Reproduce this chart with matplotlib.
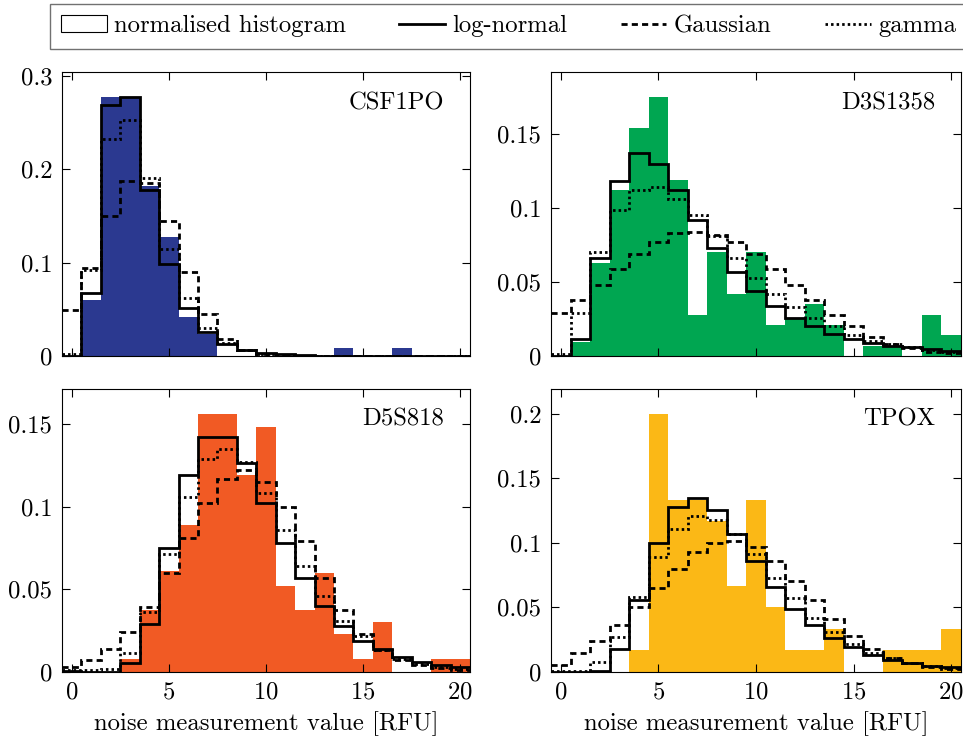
import matplotlib
matplotlib.use("Agg")
import matplotlib.pyplot as plt
import numpy as np
from matplotlib.patches import Patch
from matplotlib.lines import Line2D
from matplotlib.ticker import FuncFormatter

plt.rcParams['font.family'] = 'cmr10'
plt.rcParams['mathtext.fontset'] = 'cm'
plt.rcParams['axes.formatter.use_mathtext'] = True
FS = 17.8
plt.rcParams['font.size'] = FS

# noise values 0..20 RFU, one bin per integer
x = np.arange(0, 21)
edges = np.arange(-0.5, 21.0, 1.0)

# CSF1PO
csf_hist = [0, 0.060, 0.277, 0.277, 0.182, 0.127, 0.042, 0.024, 0, 0, 0,
            0, 0, 0, 0.0086, 0, 0, 0.0086, 0, 0, 0]
csf_logn = [0.0005, 0.067, 0.269, 0.277, 0.178, 0.099, 0.051, 0.026, 0.013, 0.0065, 0.0033,
            0.0017, 0.0009, 0.0005, 0.0003, 0.0002, 0.0001, 0.0001, 0, 0, 0]
csf_gauss = [0.049, 0.094, 0.150, 0.187, 0.185, 0.145, 0.090, 0.045, 0.018, 0.0065, 0.0018,
             0.0004, 0.0001, 0, 0, 0, 0, 0, 0, 0, 0]
csf_gamma = [0.002, 0.092, 0.232, 0.253, 0.190, 0.115, 0.062, 0.030, 0.014, 0.006, 0.0025,
             0.001, 0.0004, 0.0002, 0.0001, 0, 0, 0, 0, 0, 0]

# D3S1358
d3_hist = [0, 0.0093, 0.063, 0.112, 0.154, 0.175, 0.119, 0.028, 0.070, 0.042, 0.070,
           0.021, 0.026, 0.035, 0.021, 0, 0.007, 0.007, 0, 0.028, 0.014]
d3_logn = [0.0003, 0.0116, 0.066, 0.118, 0.137, 0.130, 0.112, 0.092, 0.073, 0.057, 0.044,
           0.034, 0.026, 0.020, 0.015, 0.0116, 0.0086, 0.007, 0.006, 0.0045, 0.0036]
d3_gauss = [0.029, 0.038, 0.048, 0.059, 0.069, 0.077, 0.083, 0.084, 0.082, 0.077, 0.069,
            0.059, 0.048, 0.038, 0.028, 0.020, 0.013, 0.008, 0.0055, 0.003, 0.002]
d3_gamma = [0.0014, 0.029, 0.070, 0.099, 0.112, 0.114, 0.106, 0.095, 0.081, 0.066, 0.053,
            0.042, 0.033, 0.026, 0.020, 0.014, 0.010, 0.008, 0.006, 0.004, 0.0025]

# D5S818
d5_hist = [0, 0, 0, 0.0077, 0.0375, 0.061, 0.089, 0.156, 0.156, 0.119, 0.148,
           0.052, 0.0375, 0.060, 0.023, 0.0077, 0.030, 0, 0, 0.0077, 0.0077]
d5_logn = [0.0004, 0.0002, 0.0003, 0.0056, 0.029, 0.075, 0.119, 0.142, 0.142, 0.126, 0.102,
           0.078, 0.057, 0.040, 0.028, 0.019, 0.0137, 0.0093, 0.0063, 0.0042, 0.0032]
d5_gauss = [0.0032, 0.0073, 0.0137, 0.024, 0.0395, 0.060, 0.081, 0.102, 0.1165, 0.122, 0.115,
            0.0996, 0.079, 0.057, 0.0375, 0.023, 0.013, 0.0073, 0.0042, 0.0022, 0.0012]
d5_gamma = [0.001, 0.001, 0.002, 0.0117, 0.036, 0.071, 0.106, 0.129, 0.135, 0.127, 0.108,
            0.086, 0.064, 0.046, 0.031, 0.022, 0.013, 0.0077, 0.0046, 0.0028, 0.0016]

# TPOX
tp_hist = [0, 0, 0, 0, 0.0167, 0.200, 0.1333, 0.1333, 0.1167, 0.0667, 0.1333,
           0.050, 0.0167, 0.0167, 0.0333, 0, 0, 0.0167, 0.0167, 0.0167, 0.0333]
tp_logn = [0.0002, 0.0002, 0.001, 0.0176, 0.056, 0.100, 0.128, 0.135, 0.125, 0.107, 0.086,
           0.066, 0.049, 0.036, 0.026, 0.019, 0.013, 0.0093, 0.0067, 0.0047, 0.0036]
tp_gauss = [0.0054, 0.015, 0.024, 0.036, 0.050, 0.065, 0.080, 0.0926, 0.100, 0.1017, 0.0965,
            0.0856, 0.0706, 0.056, 0.041, 0.028, 0.018, 0.011, 0.007, 0.004, 0.0026]
tp_gamma = [0.001, 0.001, 0.008, 0.027, 0.058, 0.089, 0.111, 0.121, 0.118, 0.107, 0.091,
            0.073, 0.057, 0.042, 0.031, 0.022, 0.015, 0.0106, 0.0072, 0.0049, 0.003]

names = ['CSF1PO', 'D3S1358', 'D5S818', 'TPOX']
colours = ['#2B3990', '#00A651', '#F15A24', '#FBB816']
hists = [csf_hist, d3_hist, d5_hist, tp_hist]
logns = [csf_logn, d3_logn, d5_logn, tp_logn]
gausss = [csf_gauss, d3_gauss, d5_gauss, tp_gauss]
gammas = [csf_gamma, d3_gamma, d5_gamma, tp_gamma]
ytop = [0.304, 0.192, 0.171, 0.219]
yticks = [[0, 0.1, 0.2, 0.3], [0, 0.05, 0.1, 0.15], [0, 0.05, 0.1, 0.15],
          [0, 0.05, 0.1, 0.15, 0.2]]

W, H = 963, 738
fig = plt.figure(figsize=(W / 100, H / 100), dpi=100)
# panel boxes in pixels: left, top, right, bottom
boxes = [(62, 72, 470, 356), (551, 72, 961, 356),
         (62, 389, 470, 672), (551, 389, 961, 672)]

lw = 2.0
dash = (0, (2.2, 1.5))
dot = (0, (0.9, 1.1))

for i in range(4):
    l, t, r, b = boxes[i]
    ax = fig.add_axes([l / W, 1 - b / H, (r - l) / W, (b - t) / H])
    ax.bar(x, hists[i], width=1.0, color=colours[i], linewidth=0)
    ax.stairs(gausss[i], edges, color='black', lw=lw, linestyle=dash, baseline=None)
    ax.stairs(gammas[i], edges, color='black', lw=lw, linestyle=dot, baseline=None)
    ax.stairs(logns[i], edges, color='black', lw=lw, baseline=None)
    ax.set_xlim(-0.5, 20.5)
    ax.set_ylim(0, ytop[i])
    ax.set_xticks([0, 5, 10, 15, 20])
    ax.set_yticks(yticks[i])
    ax.yaxis.set_major_formatter(FuncFormatter(lambda v, p: '%g' % v))
    ax.tick_params(direction='in', length=6, width=0.8, top=True, right=True,
                   labelsize=FS, pad=7)
    for s in ax.spines.values():
        s.set_linewidth(0.8)
    if i < 2:
        ax.set_xticklabels([])
    else:
        ax.set_xlabel('noise measurement value [RFU]', fontsize=FS, labelpad=5)
    ax.text(0.937, 0.93, names[i], transform=ax.transAxes, ha='right', va='top',
            fontsize=FS)

handles = [Patch(facecolor='white', edgecolor='black', linewidth=0.8),
           Line2D([], [], color='black', lw=lw),
           Line2D([], [], color='black', lw=lw, linestyle=dash),
           Line2D([], [], color='black', lw=lw, linestyle=dot)]
labels = ['normalised histogram', 'log-normal', 'Gaussian', 'gamma']
leg = fig.legend(handles, labels, loc='upper left', bbox_to_anchor=(50 / W, 1 - 4 / H),
                 ncol=4, frameon=True, fancybox=False, edgecolor='0.3',
                 borderaxespad=0, handlelength=1.85, handletextpad=0.3,
                 columnspacing=2.15, fontsize=FS, borderpad=0.45)
leg.get_frame().set_linewidth(1.0)

fig.savefig('out.png', dpi=100)
